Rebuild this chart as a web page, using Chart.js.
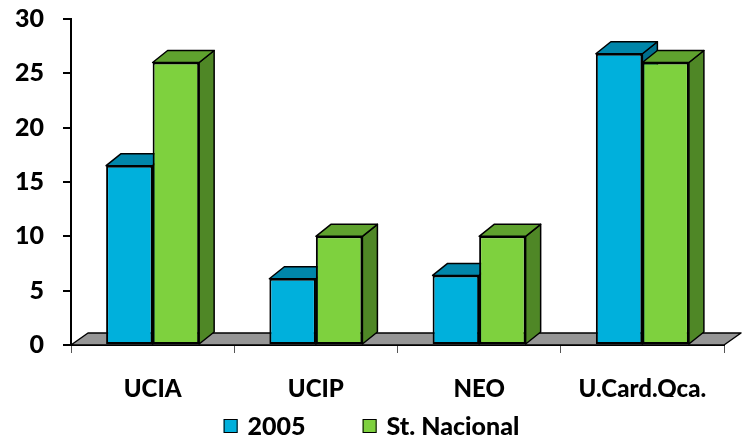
<!DOCTYPE html>
<html>
<head>
<meta charset="utf-8">
<script src="https://cdn.jsdelivr.net/npm/chart.js@4.4.1/dist/chart.umd.min.js"></script>
<style>
  html, body { margin: 0; padding: 0; background: #fff; }
</style>
</head>
<body>
<canvas id="chart" width="743" height="437"></canvas>
<script>
// data
const categories = ["UCIA", "UCIP", "NEO", "U.Card.Qca."];
const values2005 = [16.5, 6.1, 6.4, 26.8];
const valuesNacional = [26, 10, 10, 26];
const yTicks = [0, 5, 10, 15, 20, 25, 30];

const FONT = "Lato";
const WEIGHT = "900";
const DX = 15, DY = 12; // depth of the fake 3D

// colours for front / top / side faces
const faces = [
  { front: "#00b0dc", top: "#0086aa", side: "#006f8d" },
  { front: "#7ed13e", top: "#5fa22e", side: "#4f8726" },
];

function poly(ctx, pts, fill) {
  ctx.beginPath();
  ctx.moveTo(pts[0][0], pts[0][1]);
  for (let i = 1; i < pts.length; i++) ctx.lineTo(pts[i][0], pts[i][1]);
  ctx.closePath();
  ctx.fillStyle = fill;
  ctx.fill();
  ctx.stroke();
}

// floor + top/side faces, drawn before chart.js paints the fronts
const bar3d = {
  id: "bar3d",
  beforeDatasetsDraw(chart) {
    const ctx = chart.ctx;
    const a = chart.chartArea;
    ctx.save();
    ctx.strokeStyle = "#000";
    ctx.lineWidth = 1.5;
    ctx.lineJoin = "round";
    poly(ctx, [[a.left, a.bottom], [a.right, a.bottom], [a.right + 17, a.bottom - 12], [a.left + 17, a.bottom - 12]], "#969696");

    const metas = chart.data.datasets.map((d, i) => chart.getDatasetMeta(i));
    for (let j = 0; j < categories.length; j++) {
      metas.forEach((meta, i) => {
        const p = meta.data[j].getProps(["x", "y", "base", "width"], true);
        const l = p.x - p.width / 2, r = p.x + p.width / 2;
        poly(ctx, [[r, p.y], [r + DX, p.y - DY], [r + DX, p.base - DY], [r, p.base]], faces[i].side);
        poly(ctx, [[l, p.y], [l + DX, p.y - DY], [r + DX, p.y - DY], [r, p.y]], faces[i].top);
      });
    }
    ctx.restore();
  },
};

// legend under the axis labels
const legendBelow = {
  id: "legendBelow",
  afterDraw(chart) {
    const ctx = chart.ctx;
    ctx.save();
    ctx.font = WEIGHT + " 25px " + FONT;
    const box = 14, gapText = 10, gapItem = 57, cy = 426;
    const items = chart.data.datasets.map((ds) => ({
      label: ds.label,
      color: ds.backgroundColor,
      w: box + gapText + ctx.measureText(ds.label).width,
    }));
    const total = items.reduce((s, it) => s + it.w, 0) + gapItem * (items.length - 1);
    let x = (chart.width - total) / 2;
    items.forEach((it) => {
      ctx.fillStyle = it.color;
      ctx.strokeStyle = "#000";
      ctx.lineWidth = 1;
      ctx.fillRect(x, cy - box / 2, box, box);
      ctx.strokeRect(x + 0.5, cy - box / 2 + 0.5, box - 1, box - 1);
      ctx.fillStyle = "#000";
      ctx.textBaseline = "middle";
      ctx.fillText(it.label, x + box + gapText, cy + 1);
      x += it.w + gapItem;
    });
    ctx.restore();
  },
};

new Chart(document.getElementById("chart"), {
  type: "bar",
  data: {
    labels: categories,
    datasets: [
      {
        label: "2005",
        data: values2005,
        backgroundColor: faces[0].front,
      },
      {
        label: "St. Nacional",
        data: valuesNacional,
        backgroundColor: faces[1].front,
      },
    ],
  },
  options: {
    responsive: false,
    animation: false,
    layout: { padding: { left: 0, top: 19, right: 19, bottom: 40 } },
    datasets: {
      bar: {
        borderColor: "#000",
        borderWidth: 2,
        borderSkipped: false,
        categoryPercentage: 0.57,
        barPercentage: 1,
      },
    },
    plugins: {
      legend: { display: false },
      tooltip: { enabled: false },
    },
    scales: {
      x: {
        grid: { drawOnChartArea: false, drawTicks: true, tickLength: 8, color: "#555", offset: true },
        border: { display: true, color: "#000", width: 2 },
        ticks: { color: "#000", padding: 22, font: { family: FONT, weight: WEIGHT, size: 24 } },
        afterFit(scale) {
          scale.height = 52;
          scale.paddingLeft = 0;
          scale.paddingRight = 0;
        },
      },
      y: {
        min: 0,
        max: 30,
        afterBuildTicks(scale) {
          scale.ticks = yTicks.map((v) => ({ value: v }));
        },
        grid: { drawOnChartArea: false, drawTicks: true, tickLength: 8, color: "#000", lineWidth: 2 },
        border: { display: true, color: "#000", width: 2 },
        ticks: { color: "#000", padding: 19, font: { family: FONT, weight: WEIGHT, size: 25 } },
        afterFit(scale) {
          scale.width = 71;
          scale.paddingTop = 0;
          scale.paddingBottom = 0;
        },
      },
    },
  },
  plugins: [bar3d, legendBelow],
});
</script>
</body>
</html>
